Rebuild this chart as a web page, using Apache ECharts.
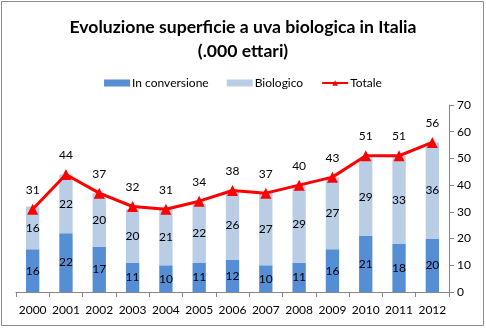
<!DOCTYPE html>
<html><head><meta charset="utf-8">
<script src="https://cdn.jsdelivr.net/npm/echarts@6/dist/echarts.min.js"></script>
<style>html,body{margin:0;padding:0;background:#fff}#c{width:486px;height:328px}</style>
</head><body><div id="c"></div>
<script>
const categories = ['2000','2001','2002','2003','2004','2005','2006','2007','2008','2009','2010','2011','2012'];
const inConversione = [16,22,17,11,10,11,12,10,11,16,21,18,20];
const biologico = [16,22,20,20,21,22,26,27,29,27,29,33,36];
const totale = [31,44,37,32,31,34,38,37,40,43,51,51,56];
const FONT = 'Lato, "Open Sans", sans-serif';
const chart = echarts.init(document.getElementById('c'));
chart.setOption({
  animation: false,
  graphic: [{type:'rect', shape:{x:1.5,y:1.5,width:482,height:324}, style:{fill:'none', stroke:'#8c8c8c', lineWidth:1}}],
  title: {
    text: 'Evoluzione superficie a uva biologica in Italia\n(.000 ettari)',
    left: 'center', top: 10,
    textStyle: {fontFamily: FONT, fontSize: 17.6, fontWeight: 'bold', color: '#000', lineHeight: 24}
  },
  legend: {
    top: 72, left: 'center', itemGap: 18, itemWidth: 26, itemHeight: 7,
    textStyle: {fontFamily: FONT, fontSize: 12, color: '#000', padding:[0,0,0,-3]},
    data: [{name:'In conversione', icon:'rect'}, {name:'Biologico', icon:'rect'}, {name:'Totale'}]
  },
  grid: {left: 16, right: 37, top: 105, bottom: 36},
  xAxis: {
    type: 'category', data: categories,
    axisLine: {lineStyle: {color: '#868686'}},
    axisTick: {show: true, inside: false, length: 5, lineStyle: {color: '#868686'}},
    axisLabel: {fontFamily: FONT, fontSize: 12, color: '#000', margin: 12, interval: 0}
  },
  yAxis: {
    type: 'value', position: 'right', min: 0, max: 70, interval: 10,
    axisLine: {show: true, lineStyle: {color: '#868686'}},
    axisTick: {show: true, length: 5, lineStyle: {color: '#868686'}},
    splitLine: {show: false},
    axisLabel: {fontFamily: FONT, fontSize: 12, color: '#000', margin: 8}
  },
  series: [
    {name:'In conversione', type:'bar', stack:'a', data: inConversione, barWidth: '40%',
     itemStyle:{color:'#558ED5'},
     label:{show:true, position:'inside', color:'#000', fontFamily: FONT, fontSize: 12}},
    {name:'Biologico', type:'bar', stack:'a', data: biologico,
     itemStyle:{color:'#B9CDE5'},
     label:{show:true, position:'inside', color:'#000', fontFamily: FONT, fontSize: 12}},
    {name:'Totale', type:'line', data: totale, symbol:'triangle', symbolSize: 11,
     lineStyle:{color:'#FF0000', width:3}, itemStyle:{color:'#FF0000'},
     label:{show:true, position:'top', distance: 8, color:'#000', fontFamily: FONT, fontSize: 12}}
  ]
});
</script></body></html>
